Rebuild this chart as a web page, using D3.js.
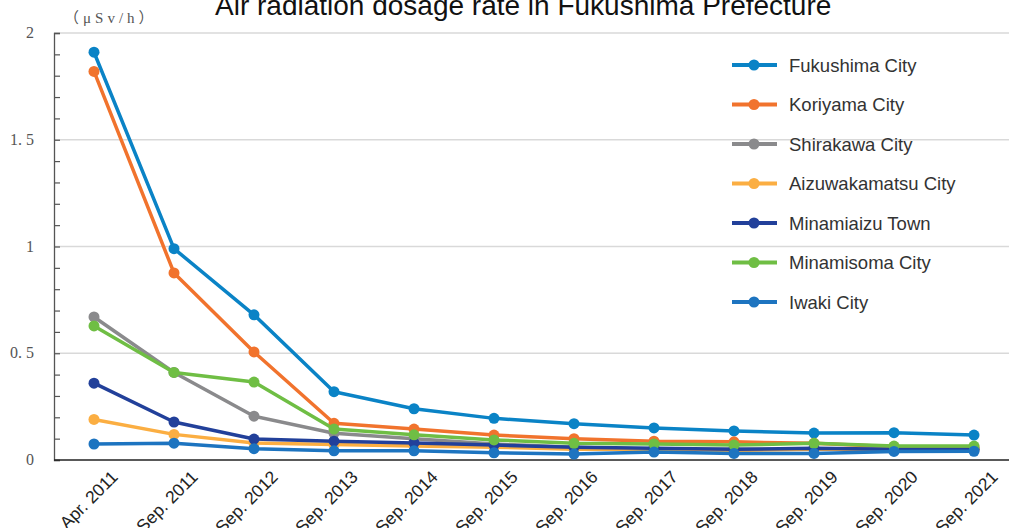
<!DOCTYPE html>
<html><head><meta charset="utf-8">
<script src="https://cdn.jsdelivr.net/npm/d3@7"></script>
<style>
html,body{margin:0;padding:0;background:#fff;}
svg{display:block;}
</style></head>
<body>
<svg id="chart" width="1009" height="528"></svg>
<script>
const title = "Air radiation dosage rate in Fukushima Prefecture";
const unitLabel = "（μSv/h）";
const categories = ["Apr. 2011","Sep. 2011","Sep. 2012","Sep. 2013","Sep. 2014","Sep. 2015","Sep. 2016","Sep. 2017","Sep. 2018","Sep. 2019","Sep. 2020","Sep. 2021"];
const seriesNames = ["Fukushima City","Koriyama City","Shirakawa City","Aizuwakamatsu City","Minamiaizu Town","Minamisoma City","Iwaki City"];
const fukushima     = [1.91,0.99,0.68,0.32,0.24,0.195,0.17,0.15,0.136,0.126,0.128,0.117];
const koriyama      = [1.82,0.876,0.506,0.172,0.145,0.117,0.10,0.088,0.085,0.078,0.062,0.06];
const shirakawa     = [0.67,0.41,0.205,0.125,0.10,0.075,0.06,0.05,0.05,0.05,0.05,0.05];
const aizuwakamatsu = [0.19,0.12,0.08,0.073,0.066,0.06,0.05,0.05,0.045,0.05,0.05,0.05];
const minamiaizu    = [0.36,0.178,0.098,0.088,0.08,0.07,0.06,0.055,0.05,0.055,0.05,0.05];
const minamisoma    = [0.628,0.41,0.365,0.145,0.118,0.094,0.078,0.075,0.07,0.078,0.065,0.065];
const iwaki         = [0.075,0.079,0.053,0.043,0.043,0.034,0.028,0.037,0.031,0.031,0.04,0.041];
const seriesValues = [fukushima,koriyama,shirakawa,aizuwakamatsu,minamiaizu,minamisoma,iwaki];
const seriesColors = ["#0a83c6","#f1732d","#8a8a8c","#fbae42","#22409a","#6fbe44","#1d74c0"];
const yTickValues = [0,0.5,1,1.5,2];
const yTickLabels = ["0","0.\u00a05","1","1.\u00a05","2"];

const svg = d3.select("#chart");
const x = d3.scaleBand().domain(categories).range([54,1014]);
const y = d3.scaleLinear().domain([0,2]).range([460,33]);
const cx = c => x(c) + x.bandwidth()/2;

// gridlines
svg.append("g").selectAll("line").data(yTickValues.filter(v=>v>0)).join("line")
  .attr("x1",54).attr("x2",1009).attr("y1",d=>y(d)).attr("y2",d=>y(d))
  .attr("stroke","#d9d9d9").attr("stroke-width",1.5);

// y axis
const yAxis = d3.axisRight(y).tickValues(d3.range(0,2.0001,0.1)).tickSize(6).tickFormat("");
const gy = svg.append("g").attr("transform","translate(54,0)").call(yAxis);
gy.select(".domain").attr("stroke","#555").attr("stroke-width",1.3);
gy.selectAll(".tick line").attr("stroke","#555").attr("stroke-width",1.2);

svg.append("g").selectAll("text").data(yTickValues).join("text")
  .attr("x",34).attr("y",d=>y(d)+5).attr("text-anchor","end")
  .attr("font-family","'Liberation Serif',serif").attr("font-size",16)
  .attr("fill","#555").text((d,i)=>yTickLabels[i]);

svg.append("text").attr("x",64).attr("y",23)
  .attr("font-family","'Liberation Serif','Noto Sans CJK JP',serif").attr("font-size",15)
  .attr("letter-spacing",4).attr("fill","#555").text(unitLabel);

// x axis
svg.append("line").attr("x1",54).attr("x2",1009).attr("y1",460).attr("y2",460)
  .attr("stroke","#222").attr("stroke-width",1.5);
svg.append("g").selectAll("text").data(categories).join("text")
  .attr("transform",d=>`translate(${cx(d)+25},${478}) rotate(-45)`)
  .attr("text-anchor","end")
  .attr("font-family","'Liberation Sans',Arial,sans-serif").attr("font-size",17.5)
  .attr("fill","#222").text(d=>d);

// title
svg.append("text").attr("x",215).attr("y",15)
  .attr("font-family","'Liberation Sans',Arial,sans-serif").attr("font-size",28)
  .attr("fill","#111").text(title);

// series
const line = d3.line().x((d,i)=>cx(categories[i])).y(d=>y(d));
seriesValues.forEach((vals,si)=>{
  const g = svg.append("g");
  g.append("path").datum(vals).attr("d",line).attr("fill","none")
    .attr("stroke",seriesColors[si]).attr("stroke-width",3.5).attr("stroke-linejoin","round");
  g.selectAll("circle").data(vals).join("circle")
    .attr("cx",(d,i)=>cx(categories[i])).attr("cy",d=>y(d)).attr("r",5.5)
    .attr("fill",seriesColors[si]);
});

// legend
const lg = svg.append("g");
seriesNames.forEach((name,i)=>{
  const yy = 65 + i*39.5;
  lg.append("line").attr("x1",732).attr("x2",777).attr("y1",yy).attr("y2",yy)
    .attr("stroke",seriesColors[i]).attr("stroke-width",4);
  lg.append("circle").attr("cx",754).attr("cy",yy).attr("r",5.5).attr("fill",seriesColors[i]);
  lg.append("text").attr("x",789).attr("y",yy+6.5)
    .attr("font-family","'Liberation Sans',Arial,sans-serif").attr("font-size",18.5)
    .attr("fill","#333").text(name);
});
</script>
</body></html>
